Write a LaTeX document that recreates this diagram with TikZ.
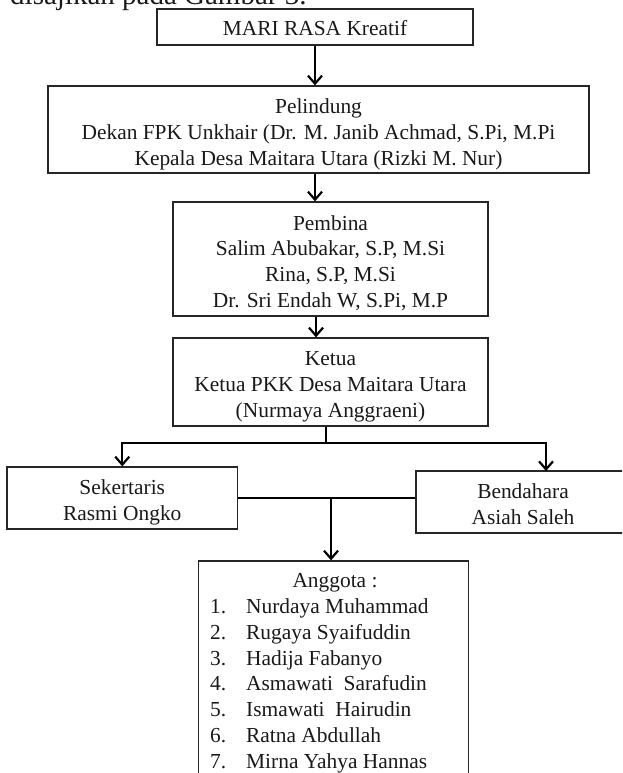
\documentclass[tikz,border=0pt]{standalone}
\usepackage{fontspec}
\setmainfont{Liberation Serif}
\usetikzlibrary{arrows.meta}
\begin{document}
\begin{tikzpicture}[x=1pt,y=-1pt,
  box/.style={draw=black!85, line width=1.3pt, inner sep=0pt},
  txt/.style={inner sep=0pt, align=center, text=black!90, font=\fontsize{21.4}{25.8}\selectfont},
  arr/.style={line width=2.2pt, -{Straight Barb[length=8pt,width=14pt]}},
  ln/.style={line width=2.2pt}
]
\useasboundingbox (0,0) rectangle (622,773);
\begin{scope}
\clip (0,0) rectangle (622,773);
\node[anchor=base west, inner sep=0pt, text=black!90, font=\fontsize{29}{34}\selectfont] (intro) at (10,5) {disajikan pada Gambar 3.};

\node[box, minimum width=316pt, minimum height=36pt] (b1) at (315,27) {};
\node[txt] (b1t) at ([yshift=-1pt]b1.center) {MARI RASA Kreatif};
\node[box, minimum width=541pt, minimum height=87pt] (b2) at (318.5,129.5) {};
\node[txt] (b2t) at ([yshift=-5pt]b2.center)
  {Pelindung\\Dekan FPK Unkhair (Dr. M. Janib Achmad, S.Pi, M.Pi\\Kepala Desa Maitara Utara (Rizki M. Nur)};
\node[box, minimum width=315pt, minimum height=114pt] (b3) at (330.5,259) {};
\node[txt] (b3t) at ([yshift=-4pt]b3.center)
  {Pembina\\Salim Abubakar, S.P, M.Si\\Rina, S.P, M.Si\\Dr. Sri Endah W, S.Pi, M.P};
\node[box, minimum width=315pt, minimum height=88pt] (b4) at (330.5,382) {};
\node[txt] (b4t) at ([yshift=-5pt]b4.center)
  {Ketua\\Ketua PKK Desa Maitara Utara\\(Nurmaya Anggraeni)};
\node[box, minimum width=230.5pt, minimum height=62pt] (sek) at (122.25,498) {};
\node[txt] (sekt) at ([yshift=-4pt]sek.center) {Sekertaris\\Rasmi Ongko};
\node[box, minimum width=214pt, minimum height=62pt] (bend) at (523,502) {};
\node[txt] (bendt) at ([yshift=-2pt]bend.center) {Bendahara\\Asiah Saleh};
\node[box, minimum width=270pt, minimum height=239pt] (ang) at (333.5,680.5) {};

\node[txt] (anghead) at (335,583) {Anggota :};
\foreach \i/\nm/\yy in {1/Nurdaya Muhammad/606, 2/Rugaya Syaifuddin/632, 3/Hadija Fabanyo/658,
  4/Asmawati\ \ Sarafudin/683, 5/Ismawati\ \ Hairudin/709, 6/Ratna Abdullah/735, 7/Mirna Yahya Hannas/761}{
  \node[txt, anchor=base west] (num\i) at (210,\yy+7) {\i.};
  \node[txt, anchor=base west] (name\i) at (246,\yy+7) {\nm};
}

\draw[arr] (b1.south) -- (b2.north -| b1.south);
\draw[arr] (b2.south -| b1.south) -- (b3.north -| b1.south);
\coordinate (c3) at (316,0);
\draw[arr] (b3.south -| c3) -- (b4.north -| c3);

\coordinate (split) at (326,443);
\coordinate (bendtop) at (546,471);
\draw[ln] (b4.south -| split) -- (split);
\draw[arr] (split) -| (sek.north);
\draw[arr] (split) -| (bendtop);

\draw[ln] (sek.east) -- (sek.east -| bend.west);
\coordinate (mid) at (331,498);
\draw[arr] (mid) -- (ang.north -| mid);
\end{scope}
\end{tikzpicture}
\end{document}
